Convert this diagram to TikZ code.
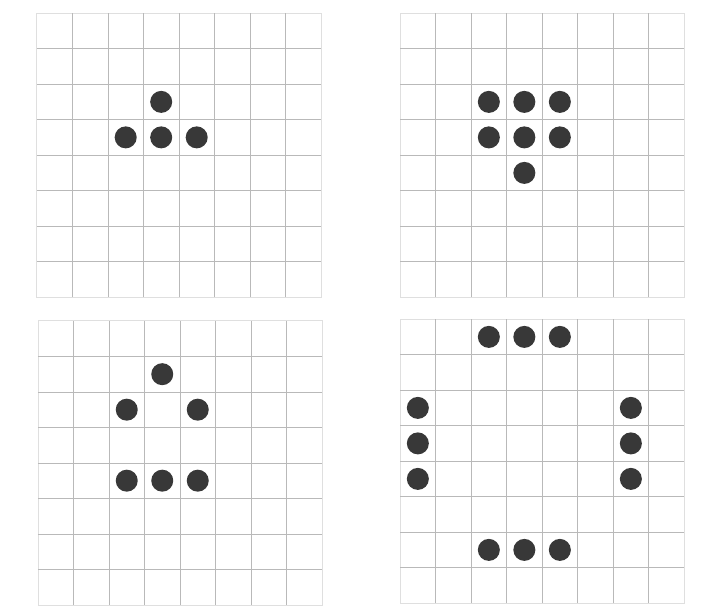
\documentclass[tikz,border=0pt]{standalone}
\usepackage{tikz}
\usetikzlibrary{positioning}

\newcommand{\lifeboard}{%
  \draw[rim] (0,0) rectangle (8,8);
  \foreach \i in {1,...,7} {
    \draw[gridline] (\i,0) -- (\i,8);
    \draw[gridline] (0,\i) -- (8,\i);
  }}

\begin{document}
\begin{tikzpicture}[
  gridline/.style={draw=gray!55, line width=0.5pt},
  rim/.style={draw=gray!25, line width=0.7pt},
  cell/.style={circle, fill=black!78, minimum size=0.62cm, inner sep=0pt},
]
\useasboundingbox (0,0) rectangle (20.45,17.07);

% generation 1
\begin{scope}[shift={(1.04,8.7)}]
  \lifeboard
  \foreach \c/\r [count=\k] in {3/2, 2/3, 3/3, 4/3}
    \node[cell] (ga\k) at (\c+0.5, 7.5-\r) {};
\end{scope}

% generation 2
\begin{scope}[shift={(11.27,8.7)}]
  \lifeboard
  \foreach \c/\r [count=\k] in {2/2, 3/2, 4/2, 2/3, 3/3, 4/3, 3/4}
    \node[cell] (gb\k) at (\c+0.5, 7.5-\r) {};
\end{scope}

% generation 3
\begin{scope}[shift={(1.07,0.03)}]
  \lifeboard
  \foreach \c/\r [count=\k] in {3/1, 2/2, 4/2, 2/4, 3/4, 4/4}
    \node[cell] (gc\k) at (\c+0.5, 7.5-\r) {};
\end{scope}

% generation 4
\begin{scope}[shift={(11.27,0.08)}]
  \lifeboard
  \foreach \c/\r [count=\k] in {2/0, 3/0, 4/0, 0/2, 0/3, 0/4, 6/2, 6/3, 6/4, 2/6, 3/6, 4/6}
    \node[cell] (gd\k) at (\c+0.5, 7.5-\r) {};
\end{scope}
\end{tikzpicture}
\end{document}
